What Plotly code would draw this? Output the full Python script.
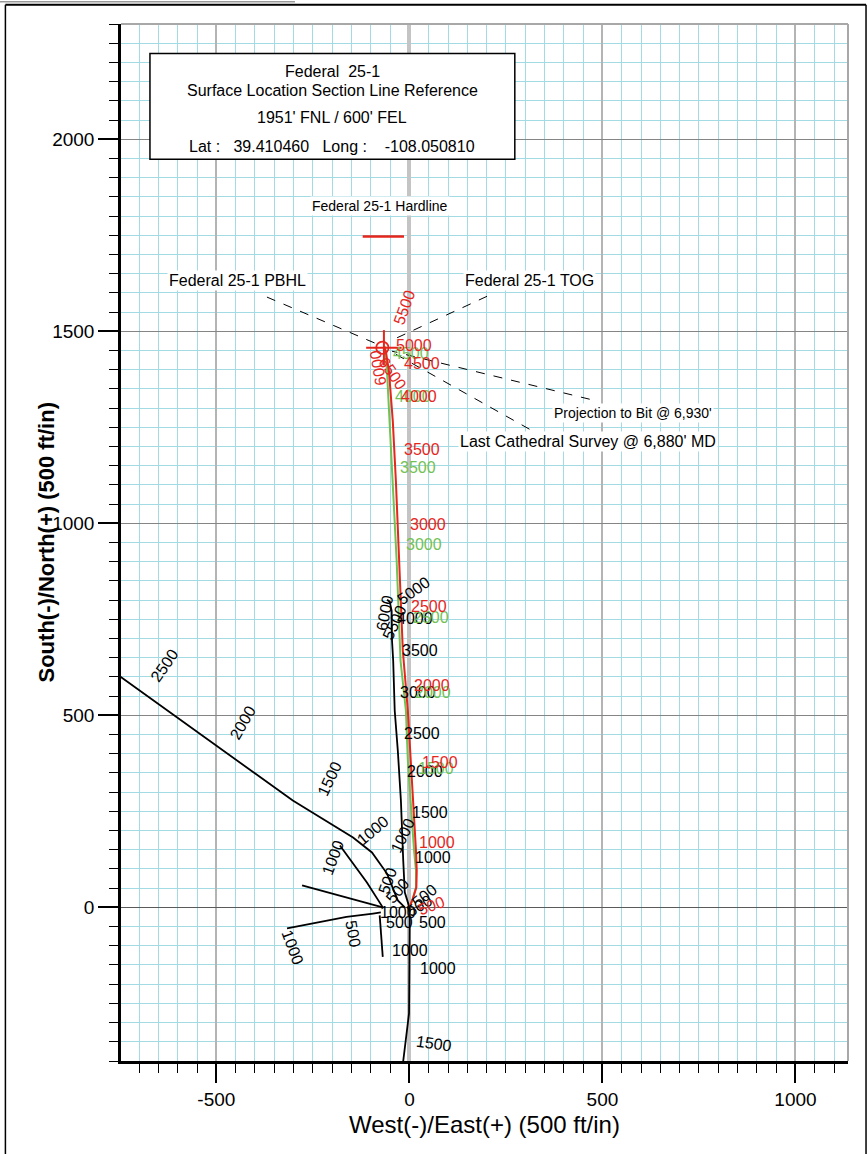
import plotly.graph_objects as go

# ---------------- data (feet) ----------------
# Federal 25-1 planned path (red)
red_x = [0, 9, 18, 19, 17, 9, 3, -4, -17, -25, -35, -43, -53, -61, -66]
red_y = [0, 23, 52, 96, 148, 278, 382, 512, 668, 876, 1110, 1266, 1396, 1448, 1459]
# Federal 25-1 actual survey (green)
green_x = [0, 9, 17, 17, 12, 4, -4, -9, -23, -33, -43, -51, -58, -63]
green_y = [0, 23, 52, 96, 148, 278, 382, 512, 642, 902, 1110, 1266, 1396, 1461]
# offset well (black, going north)
blk_x = [0, -12, -16, -22, -30, -38, -42, -45, -46, -51, -58]
blk_y = [0, 39, 122, 278, 408, 512, 642, 694, 772, 796, 801]
# offset well (black, going south)
blks_x = [1, 1, 0, -1, -9, -16]
blks_y = [0, -21, -138, -276, -346, -400]
# offset laterals (black)
offa_x = [-760, -302, -146, -97, -58, -30, -12]
offa_y = [609, 278, 182, 143, 88, 18, 0]
offb_x = [-180, -110, -69]
offb_y = [161, 65, 0]
offc_x = [-278, -69]
offc_y = [57, 0]
offd_x = [-317, -163, -94, -74]
offd_y = [-55, -25, -16, -13]
offe_x = [-77, -69]
offe_y = [-21, -129]

# measured-depth labels
red_md = ["500", "1000", "1500", "2000", "2500", "3000", "3500", "4000", "4500", "5000", "5500", "6000", "6500"]
red_md_x = [58, 71, 79, 58, 51, 48, 32, 25, 32, 12, -14, -82, -43]
red_md_y = [5, 169, 377, 577, 783, 998, 1191, 1329, 1417, 1462, 1563, 1404, 1391]
red_md_ang = [-20, 0, 0, 0, 0, 0, 0, 0, 0, 0, -70, -100, 55]

green_md = ["1500", "2000", "2500", "3000", "3500", "4000", "4500"]
green_md_x = [69, 61, 56, 38, 22, 10, 4]
green_md_y = [361, 559, 754, 946, 1144, 1329, 1443]

blk_md = ["1000", "1500", "2000", "2500", "3000", "3500", "4000", "5000", "5500", "6000",
          "500", "500", "1000", "1000", "1500",
          "500", "500", "1000", "1000", "1000", "1500", "2000", "2500", "500", "1000",
          "1000", "500", "500"]
blk_md_x = [61, 53, 40, 32, 22, 27, 14, 12, -38, -63,
            -25, 61, 1, 74, 63,
            -30, -56, -17, -198, -95, -206, -431, -634, -146, -302,
            -30, 27, 40]
blk_md_y = [130, 247, 354, 452, 559, 668, 751, 824, 741, 767,
            -39, -39, -112, -159, -354,
            44, 70, 187, 130, 200, 335, 481, 629, -68, -104,
            -13, 5, 31]
blk_md_ang = [0, 0, 0, 0, 0, 0, 0, -35, -65, -80,
              0, 0, 0, 0, 8,
              -50, -70, -65, -70, -40, -65, -60, -55, 80, 70,
              0, -30, -40]

# leader lines
pbhl_x = [-369, -82]
pbhl_y = [1589, 1466]
tog_x = [201, -45]
tog_y = [1591, 1477]
proj_x = [467, -45]
proj_y = [1323, 1448]
last_x = [311, -35]
last_y = [1245, 1440]

target_x, target_y, target_r = -70, 1457, 16
cross_x, cross_y, cross_arm = -66, 1457, 46
hardline_x = [-121, -14]
hardline_y = [1747, 1747]

box_lines = ["Federal\u00a0 25-1", "Surface Location Section Line Reference",
             "1951' FNL / 600' FEL", "Lat :\u00a0\u00a0 39.410460\u00a0\u00a0 Long :\u00a0\u00a0\u00a0 -108.050810"]
box_line_y = [2176, 2127, 2057, 1981]
box_x0, box_x1, box_y0, box_y1 = -672, 273, 1948, 2223

notes = ["Federal 25-1 Hardline", "Federal 25-1 PBHL", "Federal 25-1 TOG",
         "Projection to Bit @ 6,930'", "Last Cathedral Survey @ 6,880' MD"]
notes_x = [-76, -444, 312, 579, 462]
notes_y = [1825, 1633, 1633, 1287, 1212]
notes_size = [14, 16, 16, 14, 16]

x_tick_vals = [-500, 0, 500, 1000]
x_tick_text = ["-500", "0", "500", "1000"]
y_tick_vals = [0, 500, 1000, 1500, 2000]
y_tick_text = ["0", "500", "1000", "1500", "2000"]

RED = "#e5261d"
GREEN = "#72c154"
FONT = "Liberation Sans, Arial, sans-serif"

fig = go.Figure()


def line(x, y, color, width=2, dash=None):
    fig.add_trace(go.Scatter(x=x, y=y, mode="lines", hoverinfo="skip", showlegend=False,
                             line=dict(color=color, width=width, dash=dash)))


for xs, ys in [(offa_x, offa_y), (offb_x, offb_y), (offc_x, offc_y), (offd_x, offd_y),
               (offe_x, offe_y), (blks_x, blks_y), (blk_x, blk_y)]:
    line(xs, ys, "black", 1.8)
line(green_x, green_y, GREEN, 2)
line(red_x, red_y, RED, 2)
for xs, ys in [(pbhl_x, pbhl_y), (tog_x, tog_y), (proj_x, proj_y), (last_x, last_y)]:
    line(xs, ys, "black", 1, "dash")

ann = []
for t, x, y, a in zip(blk_md, blk_md_x, blk_md_y, blk_md_ang):
    ann.append(dict(x=x, y=y, text=t, textangle=a, font=dict(size=16, color="black")))
for t, x, y in zip(green_md, green_md_x, green_md_y):
    ann.append(dict(x=x, y=y, text=t, font=dict(size=16, color=GREEN)))
for t, x, y, a in zip(red_md, red_md_x, red_md_y, red_md_ang):
    ann.append(dict(x=x, y=y, text=t, textangle=a, font=dict(size=16, color=RED)))
for t, y in zip(box_lines, box_line_y):
    ann.append(dict(x=(box_x0 + box_x1) / 2, y=y, text=t, font=dict(size=16, color="black")))
for t, x, y, s in zip(notes, notes_x, notes_y, notes_size):
    ann.append(dict(x=x, y=y, text=t, font=dict(size=s, color="black"), bgcolor="white"))
for a in ann:
    a.update(xref="x", yref="y", showarrow=False, xanchor="center", yanchor="middle")
    a["font"]["family"] = FONT

ann.append(dict(xref="paper", yref="paper", x=0.5, y=-0.0608, showarrow=False,
                text="West(-)/East(+) (500 ft/in)", xanchor="center", yanchor="middle",
                font=dict(size=24, color="black", family=FONT)))
ann.append(dict(xref="paper", yref="paper", x=-0.1018, y=0.5, showarrow=False, textangle=-90,
                text="<b>South(-)/North(+) (500 ft/in)</b>", xanchor="center", yanchor="middle",
                font=dict(size=22, color="black", family=FONT)))

shapes = [
    dict(type="rect", xref="x", yref="y", x0=box_x0, x1=box_x1, y0=box_y0, y1=box_y1,
         fillcolor="white", line=dict(color="black", width=1.5), layer="above"),
    dict(type="line", xref="x", yref="y", x0=hardline_x[0], x1=hardline_x[1],
         y0=hardline_y[0], y1=hardline_y[1], line=dict(color=RED, width=2.5)),
    dict(type="circle", xref="x", yref="y", x0=target_x - target_r, x1=target_x + target_r,
         y0=target_y - target_r, y1=target_y + target_r, line=dict(color=RED, width=1.8)),
    dict(type="line", xref="x", yref="y", x0=cross_x - cross_arm, x1=cross_x + cross_arm,
         y0=cross_y, y1=cross_y, line=dict(color=RED, width=2)),
    dict(type="line", xref="x", yref="y", x0=cross_x, x1=cross_x,
         y0=cross_y - cross_arm, y1=cross_y + cross_arm, line=dict(color=RED, width=2)),
    # plot frame top/right
    dict(type="line", xref="paper", yref="paper", x0=0, x1=1, y0=1, y1=1,
         line=dict(color="#a8a8a8", width=2)),
    dict(type="line", xref="paper", yref="paper", x0=1, x1=1, y0=0, y1=1,
         line=dict(color="#a8a8a8", width=2)),
    # outer page frame
    dict(type="line", xref="paper", yref="paper", x0=-0.159, x1=1.0248, y0=1.0186, y1=1.0186,
         line=dict(color="black", width=2)),
    dict(type="line", xref="paper", yref="paper", x0=-0.159, x1=-0.159, y0=-0.1, y1=1.0186,
         line=dict(color="black", width=1.5)),
    dict(type="line", xref="paper", yref="paper", x0=1.0248, x1=1.0248, y0=-0.1, y1=1.0186,
         line=dict(color="black", width=1.5)),
    dict(type="line", xref="paper", yref="paper", x0=-0.17, x1=0.2393, y0=1.0215, y1=1.0215,
         line=dict(color="#999999", width=1.5)),
]

axis_common = dict(
    showline=True, linecolor="black", linewidth=2.5,
    ticks="outside", tickcolor="black", tickwidth=2,
    tickfont=dict(size=19, color="black", family=FONT),
    tickmode="array", zeroline=True,
    minor=dict(tickmode="linear", dtick=50, tick0=0, ticks="outside", ticklen=9, tickwidth=1.4,
               tickcolor="black", showgrid=True, gridcolor="#a3dbe4", gridwidth=1),
)
fig.update_xaxes(range=[-747, 1136], tickvals=x_tick_vals, ticktext=x_tick_text, ticklen=19,
                 gridcolor="#b4b4b4", gridwidth=1.6,
                 zerolinecolor="#c4c4c4", zerolinewidth=3.5, **axis_common)
fig.update_yaxes(range=[-400, 2300], tickvals=y_tick_vals, ticktext=y_tick_text, ticklen=20,
                 gridcolor="#858585", gridwidth=1,
                 zerolinecolor="#5a5a5a", zerolinewidth=1, **axis_common)

fig.update_layout(width=868, height=1154, margin=dict(l=121, r=20, t=24, b=93, pad=0),
                  paper_bgcolor="white", plot_bgcolor="white", showlegend=False,
                  annotations=ann, shapes=shapes, font=dict(family=FONT))

fig.write_html("out.html", config={"displayModeBar": False},
               post_script="document.body.style.margin='0';")
